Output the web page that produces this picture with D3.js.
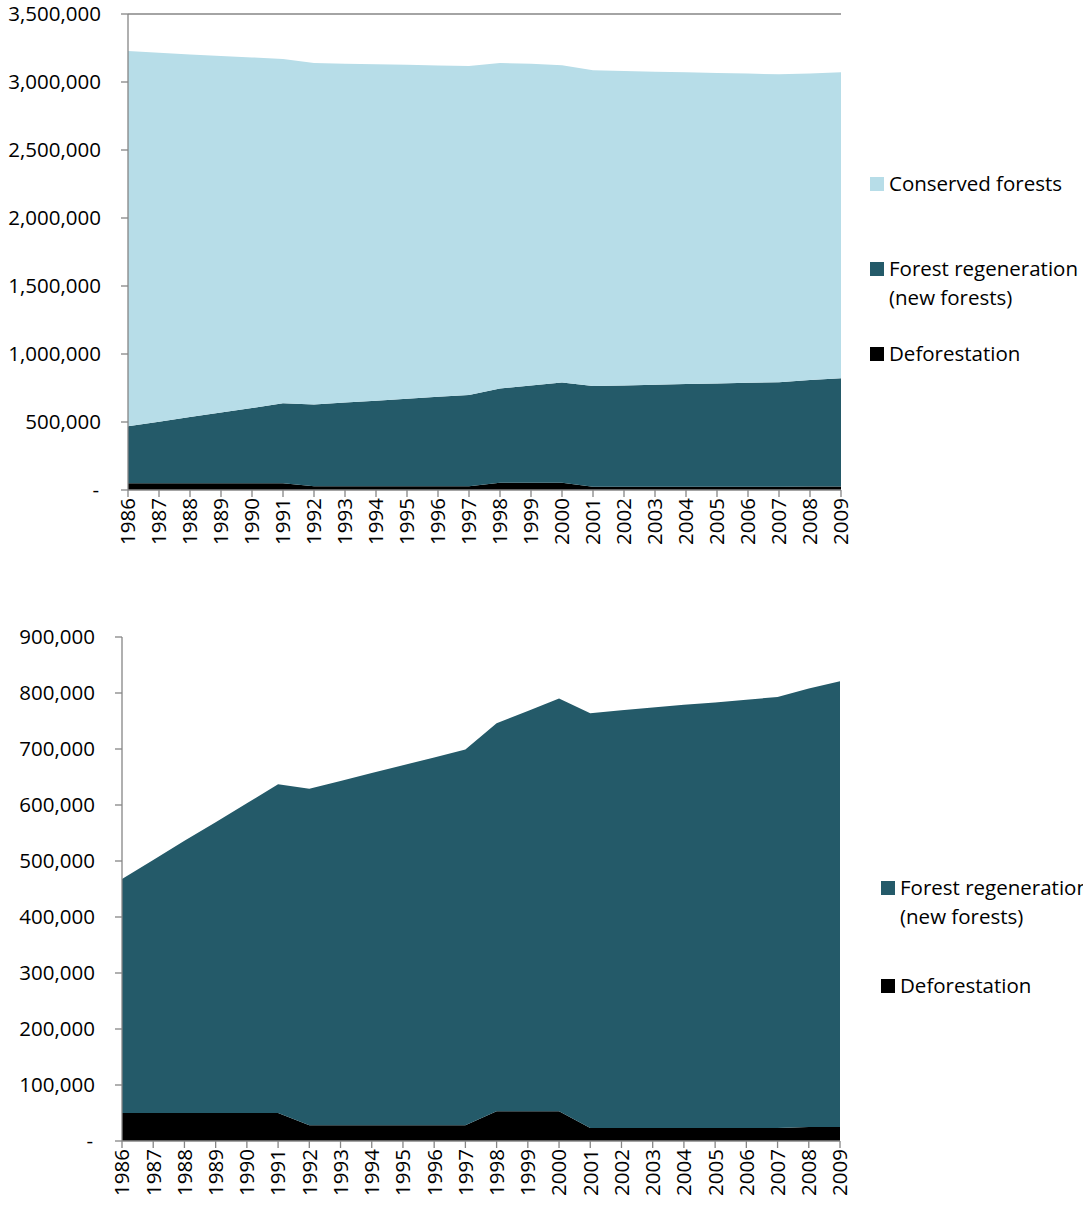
<!DOCTYPE html>
<html><head><meta charset="utf-8">
<script src="https://cdn.jsdelivr.net/npm/d3@7"></script>
<style>
body{margin:0;background:#fff;}
svg text{font-family:"Open Sans",sans-serif;fill:#000;}
</style></head>
<body><svg id="c" width="1083" height="1207"></svg>
<script>
const years = d3.range(1986, 2010);
// stacked total of regeneration + deforestation (top of teal area)
const regenTop = [468000,502000,536000,569000,603000,637000,629000,643000,657000,671000,685000,699000,746000,768000,790000,764000,769000,774000,779000,783000,788000,793000,808000,821000];
const deforestation = [50000,50000,50000,50000,50000,50000,28000,28000,28000,28000,28000,28000,53000,53000,53000,23000,23000,23000,23000,23000,23000,23000,25000,25000];
const totalTop = [3228000,3215000,3203000,3192000,3181000,3170000,3140000,3135000,3131000,3127000,3122000,3117000,3140000,3135000,3123000,3086000,3081000,3076000,3071000,3066000,3062000,3057000,3062000,3071000];
const regeneration = regenTop.map((v,i)=>v-deforestation[i]);
const conserved = totalTop.map((v,i)=>v-regenTop[i]);
const topTicks = [0,500000,1000000,1500000,2000000,2500000,3000000,3500000];
const bottomTicks = [0,100000,200000,300000,400000,500000,600000,700000,800000,900000];
const colors = {deforestation:"#000000", regeneration:"#245a69", conserved:"#b7dde8"};

const data = years.map((y,i)=>({year:y, deforestation:deforestation[i], regeneration:regeneration[i], conserved:conserved[i]}));
const svg = d3.select("#c");
const fmt = v => v===0 ? "-" : d3.format(",")(v);
const FS = 20.5;

function chart(keys, o){
  const x = d3.scaleLinear().domain([1986,2009]).range([o.x0,o.x1]);
  const y = d3.scaleLinear().domain([0,o.max]).range([o.y0,o.y1]);
  const stack = d3.stack().keys(keys)(data);
  const area = d3.area().x(d=>x(d.data.year)).y0(d=>y(d[0])).y1(d=>y(d[1]));
  const g = svg.append("g");
  g.selectAll("path.a").data(stack).join("path").attr("class","a")
    .attr("d",area).attr("fill",d=>colors[d.key]);
  g.append("line").attr("x1",o.x0).attr("x2",o.x0).attr("y1",o.y0).attr("y2",o.y1).attr("stroke","#868686").attr("stroke-width",1.3);
  g.append("line").attr("x1",o.x0).attr("x2",o.x1).attr("y1",o.y0).attr("y2",o.y0).attr("stroke","#868686").attr("stroke-width",1.3);
  if(o.topLine) g.append("line").attr("x1",o.x0).attr("x2",o.x1).attr("y1",o.y1).attr("y2",o.y1).attr("stroke","#868686").attr("stroke-width",1.3);
  o.ticks.forEach(t=>{
    g.append("line").attr("x1",o.x0-7).attr("x2",o.x0).attr("y1",y(t)).attr("y2",y(t)).attr("stroke","#868686").attr("stroke-width",1.3);
    g.append("text").attr("x",o.x0-(t===0?29:27)).attr("y",y(t)).attr("dy","0.36em")
      .attr("text-anchor","end").style("font-size",FS+"px").text(fmt(t));
  });
  years.forEach(yr=>{
    g.append("line").attr("x1",x(yr)).attr("x2",x(yr)).attr("y1",o.y0).attr("y2",o.y0+7).attr("stroke","#868686").attr("stroke-width",1.3);
    g.append("text").attr("transform",`translate(${x(yr)},${o.y0+8}) rotate(-90)`)
      .attr("dy","0.36em").attr("text-anchor","end").style("font-size",FS+"px").text(yr);
  });
  o.legend.forEach(l=>{
    g.append("rect").attr("x",o.lx).attr("y",l.y-7).attr("width",14).attr("height",14).attr("fill",colors[l.key]);
    l.lines.forEach((s,j)=>{
      g.append("text").attr("x",o.lx+19).attr("y",l.y+j*29).attr("dy","0.36em").style("font-size",FS+"px").text(s);
    });
  });
}

chart(["deforestation","regeneration","conserved"],{x0:128,x1:841,y0:490,y1:14,max:3500000,ticks:topTicks,topLine:true,lx:870,
  legend:[{key:"conserved",y:184,lines:["Conserved forests"]},{key:"regeneration",y:269,lines:["Forest regeneration","(new forests)"]},{key:"deforestation",y:354,lines:["Deforestation"]}]});
chart(["deforestation","regeneration"],{x0:122,x1:840,y0:1141,y1:637,max:900000,ticks:bottomTicks,topLine:false,lx:881,
  legend:[{key:"regeneration",y:888,lines:["Forest regeneration","(new forests)"]},{key:"deforestation",y:986,lines:["Deforestation"]}]});
</script></body></html>
